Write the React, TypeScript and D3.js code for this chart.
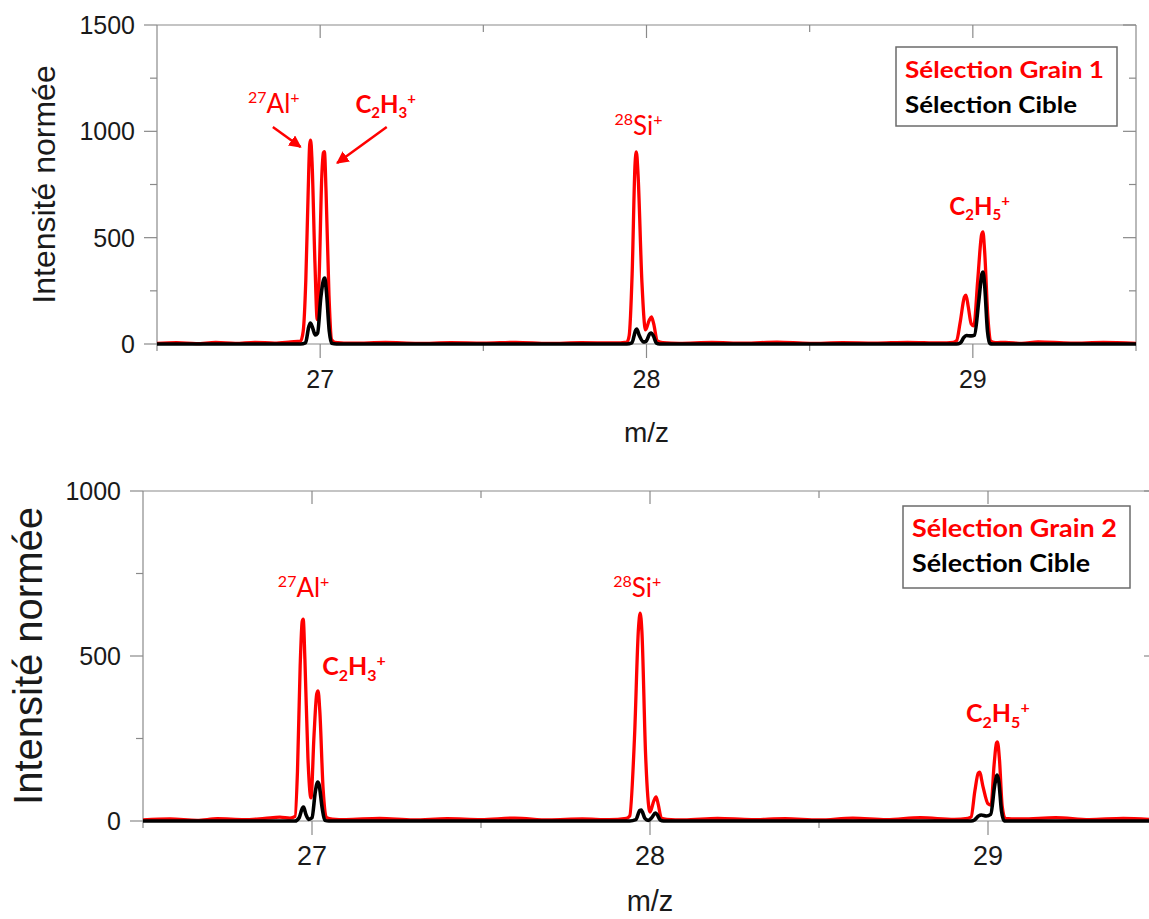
import React from 'react';
import * as d3 from 'd3';

// ---------- DATA ----------
const mzMajorTicks = [27, 28, 29];
const mzMinorTicks = [27.5, 28.5];
const topYMajor = [0, 500, 1000, 1500];
const topYMinor = [250, 750, 1250];
const botYMajor = [0, 500, 1000];
const botYMinor = [250, 750];

// Panel 1 : Grain 1 (red) vs Cible (black)  [m/z, intensity]
const grain1: [number, number][] = [
  [26.5, 3], [26.56, 6], [26.62, 2], [26.68, 7], [26.74, 3], [26.8, 8], [26.86, 4], [26.91, 10], [26.94, 14],
  [26.948, 60], [26.956, 300], [26.963, 700], [26.968, 940], [26.971, 958], [26.975, 860], [26.984, 380], [26.991, 115],
  [26.997, 320], [27.005, 790], [27.01, 900], [27.013, 905], [27.018, 720], [27.027, 230], [27.035, 20], [27.045, 8],
  [27.1, 4], [27.2, 7], [27.3, 3], [27.4, 6], [27.5, 4], [27.6, 8], [27.7, 3], [27.8, 6], [27.9, 5], [27.94, 9],
  [27.947, 40], [27.956, 330], [27.965, 850], [27.969, 903], [27.974, 800], [27.986, 290], [27.997, 66],
  [28.008, 110], [28.015, 127], [28.022, 95], [28.033, 15], [28.05, 6],
  [28.1, 3], [28.2, 7], [28.3, 4], [28.4, 9], [28.5, 3], [28.6, 6], [28.7, 4], [28.8, 8], [28.9, 5], [28.94, 8],
  [28.95, 15], [28.961, 100], [28.974, 220], [28.979, 230], [28.986, 175], [28.995, 95], [29.003, 85],
  [29.015, 300], [29.027, 515], [29.031, 527], [29.036, 440], [29.046, 130], [29.056, 12], [29.07, 6],
  [29.1, 8], [29.15, 3], [29.2, 10], [29.3, 4], [29.4, 7], [29.5, 3],
];
const cible1: [number, number][] = [
  [26.5, 0], [26.94, 0], [26.955, 5], [26.965, 80], [26.97, 99], [26.976, 80], [26.985, 42], [26.992, 50],
  [27.002, 220], [27.01, 300], [27.014, 310], [27.019, 250], [27.028, 60], [27.035, 3], [27.05, 0],
  [27.94, 0], [27.955, 5], [27.967, 65], [27.97, 70], [27.978, 40], [27.99, 10], [27.998, 12], [28.01, 48],
  [28.015, 52], [28.022, 35], [28.03, 5], [28.04, 0],
  [28.95, 0], [28.962, 5], [28.972, 30], [28.98, 40], [28.995, 38], [29.005, 42], [29.018, 200], [29.028, 330],
  [29.031, 338], [29.036, 280], [29.045, 60], [29.052, 2], [29.06, 0], [29.5, 0],
];

// Panel 2 : Grain 2 (red) vs Cible (black)
const grain2: [number, number][] = [
  [26.5, 3], [26.58, 6], [26.66, 2], [26.72, 7], [26.8, 4], [26.86, 8], [26.905, 12], [26.935, 9], [26.95, 14],
  [26.957, 150], [26.965, 470], [26.971, 605], [26.974, 612], [26.979, 490], [26.988, 190], [26.997, 70],
  [27.006, 260], [27.014, 385], [27.018, 394], [27.023, 335], [27.033, 95], [27.044, 10], [27.06, 6],
  [27.1, 4], [27.2, 8], [27.3, 3], [27.4, 7], [27.5, 4], [27.6, 9], [27.7, 3], [27.8, 6], [27.88, 4], [27.93, 8],
  [27.94, 15], [27.954, 250], [27.966, 585], [27.971, 630], [27.976, 575], [27.987, 200], [28.0, 27],
  [28.011, 60], [28.018, 73], [28.024, 52], [28.034, 8], [28.05, 5],
  [28.1, 3], [28.2, 8], [28.3, 4], [28.4, 7], [28.5, 3], [28.6, 9], [28.7, 4], [28.8, 10], [28.9, 5], [28.94, 8],
  [28.95, 12], [28.961, 90], [28.971, 145], [28.975, 148], [28.985, 105], [29.0, 52], [29.009, 48],
  [29.018, 170], [29.025, 236], [29.028, 240], [29.034, 185], [29.042, 45], [29.051, 8],
  [29.1, 6], [29.2, 10], [29.3, 4], [29.4, 8], [29.5, 3],
];
const cible2: [number, number][] = [
  [26.5, 0], [26.95, 0], [26.962, 10], [26.972, 40], [26.975, 42], [26.982, 20], [26.99, 5], [27.0, 10],
  [27.01, 90], [27.017, 118], [27.021, 110], [27.03, 40], [27.038, 2], [27.05, 0],
  [27.94, 0], [27.958, 4], [27.97, 32], [27.974, 33], [27.985, 8], [27.995, 2], [28.005, 10], [28.016, 24],
  [28.021, 20], [28.03, 3], [28.04, 0],
  [28.95, 0], [28.96, 3], [28.972, 15], [28.98, 18], [28.995, 15], [29.008, 20], [29.02, 110], [29.027, 139],
  [29.032, 120], [29.04, 30], [29.048, 0], [29.5, 0],
];

const legendGrain1 = 'Sélection Grain 1';
const legendGrain2 = 'Sélection Grain 2';
const legendCible = 'Sélection Cible';
const yTitle = 'Intensité normée';
const xTitle = 'm/z';

type Seg = { t: string; k: 'n' | 'sub' | 'sup' };
type Ann = { mz: number; y: number; bold: boolean; segs: Seg[] };

const alLabel: Seg[] = [{ t: '27', k: 'sup' }, { t: 'Al', k: 'n' }, { t: '+', k: 'sup' }];
const siLabel: Seg[] = [{ t: '28', k: 'sup' }, { t: 'Si', k: 'n' }, { t: '+', k: 'sup' }];
const c2h3Label: Seg[] = [{ t: 'C', k: 'n' }, { t: '2', k: 'sub' }, { t: 'H', k: 'n' }, { t: '3', k: 'sub' }, { t: '+', k: 'sup' }];
const c2h5Label: Seg[] = [{ t: 'C', k: 'n' }, { t: '2', k: 'sub' }, { t: 'H', k: 'n' }, { t: '5', k: 'sub' }, { t: '+', k: 'sup' }];

// annotations in data coordinates
const topAnnotations: Ann[] = [
  { mz: 26.779, y: 1086, bold: false, segs: alLabel },
  { mz: 27.108, y: 1086, bold: true, segs: c2h3Label },
  { mz: 27.902, y: 983, bold: false, segs: siLabel },
  { mz: 28.928, y: 607, bold: true, segs: c2h5Label },
];
const topArrows = [
  { from: [26.855, 1020], to: [26.94, 926] },
  { from: [27.204, 1020], to: [27.052, 851] },
];
const botAnnotations: Ann[] = [
  { mz: 26.899, y: 679, bold: false, segs: alLabel },
  { mz: 27.03, y: 442, bold: true, segs: c2h3Label },
  { mz: 27.891, y: 679, bold: false, segs: siLabel },
  { mz: 28.935, y: 300, bold: true, segs: c2h5Label },
];

// ---------- DRAWING ----------
const GREY = '#8a8a8a';
const RED = '#ff0000';
const AXIS_FONT = '"Liberation Sans", Arial, sans-serif';
const CAL_FONT = 'Lato, "Open Sans", sans-serif';

function RichText({ x, y, segs, size, bold }: { x: number; y: number; segs: Seg[]; size: number; bold: boolean }) {
  const small = Math.round(size * 0.62);
  let cur = 0;
  const spans = segs.map((s, i) => {
    const target = s.k === 'n' ? 0 : s.k === 'sub' ? size * 0.22 : -size * 0.38;
    const dy = target - cur;
    cur = target;
    return (
      <tspan key={i} dy={dy} fontSize={s.k === 'n' ? size : small}>
        {s.t}
      </tspan>
    );
  });
  return (
    <text x={x} y={y} fill={RED} fontFamily={CAL_FONT} fontWeight={bold ? 700 : 400}>
      {spans}
    </text>
  );
}

type PanelProps = {
  box: { left: number; right: number; top: number; bottom: number };
  yMax: number;
  yMajor: number[];
  yMinor: number[];
  red: [number, number][];
  black: [number, number][];
  anns: Ann[];
  arrows: { from: number[]; to: number[] }[];
  legendRed: string;
  legendBox: { x: number; y: number; w: number; h: number };
  legendFont: number;
  legendWidths: [number, number];
  tickFont: number;
  xTickFont: number;
  titleFont: number;
  titleX: number;
  xTitleY: number;
  xTitleFont: number;
  annFont: number;
  annBoldFont: number;
  id: string;
};

function Panel(p: PanelProps) {
  const { box } = p;
  const x = d3.scaleLinear().domain([26.5, 29.5]).range([box.left, box.right]);
  const y = d3.scaleLinear().domain([0, p.yMax]).range([box.bottom, box.top]);
  const line = d3
    .line<[number, number]>()
    .x((d) => x(d[0]))
    .y((d) => y(d[1]))
    .curve(d3.curveMonotoneX);
  const clipId = 'clip-' + p.id;
  const maj = 13;
  const min = 7;
  return (
    <g>
      <defs>
        <clipPath id={clipId}>
          <rect x={box.left} y={box.top - 2} width={box.right - box.left} height={box.bottom - box.top + 4} />
        </clipPath>
        <marker id={'arr-' + p.id} viewBox="0 0 10 10" refX="9" refY="5" markerWidth="5" markerHeight="5" orient="auto">
          <path d="M0,0 L10,5 L0,10 z" fill={RED} />
        </marker>
      </defs>
      {/* frame */}
      <g stroke={GREY} strokeWidth={1.2} fill="none">
        <line x1={box.left} x2={box.right} y1={box.top} y2={box.top} />
        <line x1={box.left} x2={box.right} y1={box.bottom} y2={box.bottom} />
        <line x1={box.left} x2={box.left} y1={box.top} y2={box.bottom + 7} />
        <line x1={box.right} x2={box.right} y1={box.top} y2={box.bottom + 7} />
        {p.yMajor.map((v) => (
          <g key={'ym' + v}>
            <line x1={box.left - maj} x2={box.left} y1={y(v)} y2={y(v)} />
            <line x1={box.right - maj} x2={box.right} y1={y(v)} y2={y(v)} />
          </g>
        ))}
        {p.yMinor.map((v) => (
          <g key={'yn' + v}>
            <line x1={box.left - min} x2={box.left} y1={y(v)} y2={y(v)} />
            <line x1={box.right - min} x2={box.right} y1={y(v)} y2={y(v)} />
          </g>
        ))}
        {mzMajorTicks.map((v) => (
          <g key={'xm' + v}>
            <line x1={x(v)} x2={x(v)} y1={box.bottom} y2={box.bottom + maj + 1} />
            <line x1={x(v)} x2={x(v)} y1={box.top} y2={box.top + maj} />
          </g>
        ))}
        {mzMinorTicks.map((v) => (
          <g key={'xn' + v}>
            <line x1={x(v)} x2={x(v)} y1={box.bottom} y2={box.bottom + min} />
            <line x1={x(v)} x2={x(v)} y1={box.top} y2={box.top + min} />
          </g>
        ))}
      </g>
      {/* tick labels */}
      <g fontFamily={AXIS_FONT} fill="#1a1a1a">
        {p.yMajor.map((v) => (
          <text key={'yl' + v} x={box.left - 22} y={y(v)} dy="0.36em" textAnchor="end" fontSize={p.tickFont}>
            {v}
          </text>
        ))}
        {mzMajorTicks.map((v) => (
          <text key={'xl' + v} x={x(v)} y={box.bottom + 44} textAnchor="middle" fontSize={p.xTickFont}>
            {v}
          </text>
        ))}
        <text x={x(28)} y={p.xTitleY} textAnchor="middle" fontSize={p.xTitleFont}>
          {xTitle}
        </text>
        <text
          transform={`translate(${p.titleX},${(box.top + box.bottom) / 2}) rotate(-90)`}
          textAnchor="middle"
          fontSize={p.titleFont}
        >
          {yTitle}
        </text>
      </g>
      {/* data */}
      <g clipPath={`url(#${clipId})`} fill="none" strokeLinejoin="round" strokeLinecap="round">
        <path d={line(p.red) || ''} stroke={RED} strokeWidth={3.3} />
        <path d={line(p.black) || ''} stroke="#000" strokeWidth={3.6} />
      </g>
      {/* annotations */}
      {p.anns.map((a, i) => (
        <RichText key={i} x={x(a.mz)} y={y(a.y)} segs={a.segs} size={a.bold ? p.annBoldFont : p.annFont} bold={a.bold} />
      ))}
      {p.arrows.map((a, i) => (
        <line
          key={'ar' + i}
          x1={x(a.from[0])}
          y1={y(a.from[1])}
          x2={x(a.to[0])}
          y2={y(a.to[1])}
          stroke={RED}
          strokeWidth={2.5}
          markerEnd={`url(#arr-${p.id})`}
        />
      ))}
      {/* legend */}
      <g>
        <rect x={p.legendBox.x} y={p.legendBox.y} width={p.legendBox.w} height={p.legendBox.h} fill="#fff" stroke="#6b6b6b" strokeWidth={1.5} />
        <text
          x={p.legendBox.x + 9}
          y={p.legendBox.y + 31}
          fontFamily={CAL_FONT}
          fontWeight={700}
          fontSize={p.legendFont}
          fill={RED}
          textLength={p.legendWidths[0]}
          lengthAdjust="spacingAndGlyphs"
        >
          {p.legendRed}
        </text>
        <text
          x={p.legendBox.x + 9}
          y={p.legendBox.y + 66}
          fontFamily={CAL_FONT}
          fontWeight={700}
          fontSize={p.legendFont}
          fill="#000"
          textLength={p.legendWidths[1]}
          lengthAdjust="spacingAndGlyphs"
        >
          {legendCible}
        </text>
      </g>
    </g>
  );
}

export default function App() {
  return (
    <svg
      width={1149}
      height={919}
      style={{ position: 'absolute', left: 0, top: 0, background: '#fff' }}
    >
      <rect x={0} y={0} width={1149} height={919} fill="#fff" />
      <Panel
        id="t"
        box={{ left: 157, right: 1136, top: 25, bottom: 344 }}
        yMax={1500}
        yMajor={topYMajor}
        yMinor={topYMinor}
        red={grain1}
        black={cible1}
        anns={topAnnotations}
        arrows={topArrows}
        legendRed={legendGrain1}
        legendBox={{ x: 896, y: 47, w: 221, h: 79 }}
        legendFont={23}
        legendWidths={[199, 172]}
        tickFont={25}
        xTickFont={25}
        titleFont={32}
        titleX={55}
        xTitleY={442}
        xTitleFont={28}
        annFont={26}
        annBoldFont={24}
      />
      <Panel
        id="b"
        box={{ left: 143, right: 1157, top: 491, bottom: 821 }}
        yMax={1000}
        yMajor={botYMajor}
        yMinor={botYMinor}
        red={grain2}
        black={cible2}
        anns={botAnnotations}
        arrows={[]}
        legendRed={legendGrain2}
        legendBox={{ x: 903, y: 506, w: 227, h: 82 }}
        legendFont={24}
        legendWidths={[205, 178]}
        tickFont={25}
        xTickFont={27}
        titleFont={40}
        titleX={42}
        xTitleY={911}
        xTitleFont={29}
        annFont={26}
        annBoldFont={25}
      />
    </svg>
  );
}
